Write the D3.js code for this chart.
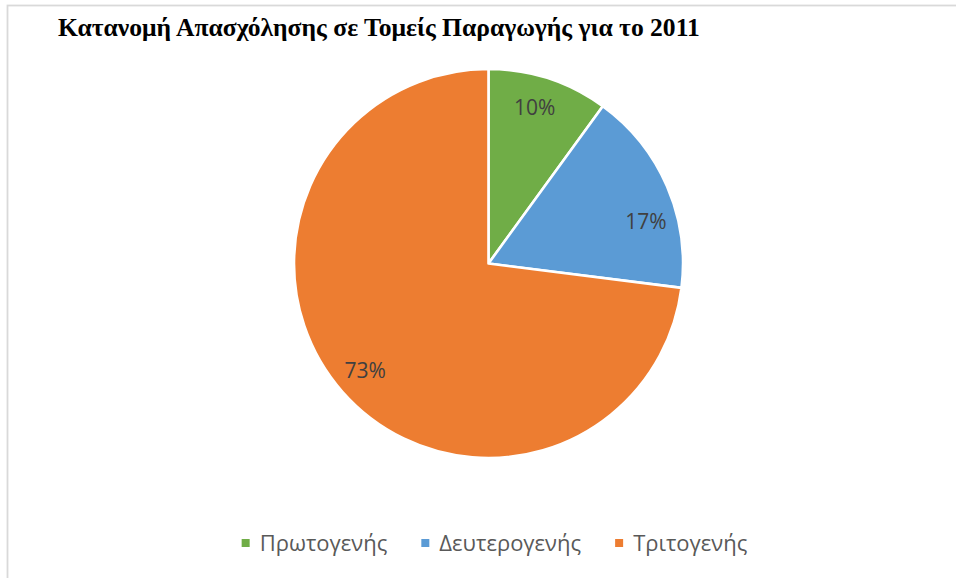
<!DOCTYPE html>
<html>
<head>
<meta charset="utf-8">
<script src="https://cdn.jsdelivr.net/npm/d3@7"></script>
<style>
  html, body { margin: 0; padding: 0; background: #ffffff; }
  svg { display: block; }
</style>
</head>
<body>
<svg id="chart" width="956" height="578"></svg>
<script>
// ---- data ----
const title = "Κατανομή Απασχόλησης σε Τομείς Παραγωγής για το 2011";
const categories = ["Πρωτογενής", "Δευτερογενής", "Τριτογενής"];
const values = [10, 17, 73];
const colors = ["#70AD47", "#5B9BD5", "#ED7D31"];

// ---- layout ----
const W = 956, H = 578;
const cx = 488.5, cy = 263.5, R = 194.5;
const labelR = 163;
const labelAngleNudge = [-1.5, 8.4, 0.6]; // degrees, mimic best-fit placement

const svg = d3.select("#chart");

// chart area border
svg.append("rect")
  .attr("x", 7.5).attr("y", 5.5)
  .attr("width", W + 20).attr("height", H + 20)
  .attr("fill", "#ffffff")
  .attr("stroke", "#d9d9d9").attr("stroke-width", 1.8);

// title
const t = svg.append("text")
  .attr("x", 58).attr("y", 36)
  .attr("font-family", "'Liberation Serif', 'Times New Roman', serif")
  .attr("font-weight", "bold")
  .attr("font-size", 24)
  .attr("fill", "#000000")
  .text(title);
const tw = t.node().getComputedTextLength();
const targetW = 642;
t.attr("font-size", 24 * targetW / tw);

// pie
const data = categories.map((c, i) => ({ cat: c, value: values[i], color: colors[i], i }));
const pie = d3.pie().value(d => d.value).sort(null);
const arcs = pie(data);
const arc = d3.arc().innerRadius(0).outerRadius(R);

const g = svg.append("g").attr("transform", `translate(${cx},${cy})`);
g.selectAll("path.slice")
  .data(arcs)
  .join("path")
  .attr("class", "slice")
  .attr("d", arc)
  .attr("fill", d => d.data.color)
  .attr("stroke", "#ffffff")
  .attr("stroke-width", 2.6)
  .attr("stroke-linejoin", "round");

const total = d3.sum(values);
g.selectAll("text.lbl")
  .data(arcs)
  .join("text")
  .attr("class", "lbl")
  .attr("x", d => {
    const a = (d.startAngle + d.endAngle) / 2 + labelAngleNudge[d.index] * Math.PI / 180;
    return labelR * Math.sin(a);
  })
  .attr("y", d => {
    const a = (d.startAngle + d.endAngle) / 2 + labelAngleNudge[d.index] * Math.PI / 180;
    return -labelR * Math.cos(a);
  })
  .attr("dy", "0.36em")
  .attr("text-anchor", "middle")
  .attr("font-family", "'Open Sans', 'Noto Sans', sans-serif")
  .attr("font-size", 21)
  .attr("fill", "#404040")
  .text(d => Math.round(d.data.value / total * 100) + "%");

// legend
const legend = svg.append("g");
const legendY = 543;
const sq = 8, sqGap = 10, itemGap = 34;
const items = legend.selectAll("g.item")
  .data(data)
  .join("g")
  .attr("class", "item");
items.append("rect")
  .attr("width", sq).attr("height", sq)
  .attr("y", legendY - sq / 2)
  .attr("fill", d => d.color);
items.append("text")
  .attr("y", legendY)
  .attr("dy", "0.35em")
  .attr("font-family", "'Open Sans', 'Noto Sans', sans-serif")
  .attr("font-size", 22)
  .attr("fill", "#595959")
  .text(d => d.cat);
const widths = [];
items.select("text").each(function () { widths.push(this.getComputedTextLength()); });
const totalLegend = d3.sum(widths) + data.length * (sq + sqGap) + (data.length - 1) * itemGap;
let x = 494.5 - totalLegend / 2;
items.each(function (d, i) {
  const it = d3.select(this);
  it.select("rect").attr("x", x);
  it.select("text").attr("x", x + sq + sqGap);
  x += sq + sqGap + widths[i] + itemGap;
});
</script>
</body>
</html>
